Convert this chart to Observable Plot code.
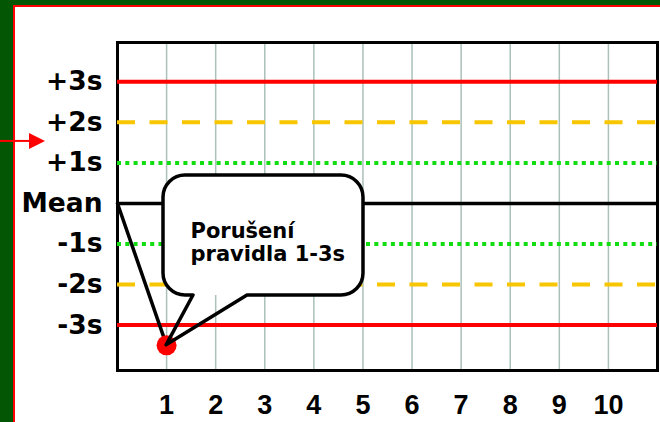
<!DOCTYPE html>
<html><head><meta charset="utf-8">
<script src="https://cdn.jsdelivr.net/npm/d3@7"></script>
<script src="https://cdn.jsdelivr.net/npm/@observablehq/plot@0.6"></script>
<style>
body{margin:0;background:#fff;}
#wrap{position:relative;width:660px;height:422px;background:#fff;overflow:hidden;}
.g-left{position:absolute;left:0;top:0;width:13px;height:422px;background:#035603;}
.g-top{position:absolute;left:0;top:0;width:660px;height:5px;background:#035603;}
.r-left{position:absolute;left:13px;top:5px;width:2px;height:417px;background:#ff0000;}
.r-top{position:absolute;left:13px;top:5px;width:647px;height:2px;background:#ff0000;}
#chart{position:absolute;left:0;top:0;}
</style></head><body>
<div id="wrap"><div class="g-left"></div><div class="g-top"></div><div class="r-left"></div><div class="r-top"></div><div id="chart"></div></div>
<script>
// Data
const runs = [1, 2, 3, 4, 5, 6, 7, 8, 9, 10];
const levelValues = [3, 2, 1, 0, -1, -2, -3];
const levelLabels = ["+3s", "+2s", "+1s", "Mean", "-1s", "-2s", "-3s"];
const seriesRuns = [0, 1];
const seriesValues = [0, -3.5];
const calloutText = "Porušení\npravidla 1-3s";

const series = seriesRuns.map((r, i) => ({run: r, value: seriesValues[i]}));
const breach = series[series.length - 1];

function balloon(index, scales) {
  const {x, y} = scales;
  const L = x(0.937), R = x(5.011), T = y(0.689), B = y(-2.271), r = 22;
  const b1 = x(1.548), b2 = x(2.648);
  const tx = x(breach.run), ty = y(breach.value);
  const g = d3.create("svg:g");
  g.append("rect").attr("x", L).attr("y", T).attr("width", R - L).attr("height", B - T)
    .attr("rx", r).attr("fill", "white");
  const p = `M${b1},${B} H${L + r} A${r},${r} 0 0 1 ${L},${B - r} V${T + r} A${r},${r} 0 0 1 ${L + r},${T} H${R - r} A${r},${r} 0 0 1 ${R},${T + r} V${B - r} A${r},${r} 0 0 1 ${R - r},${B} H${b2} L${tx},${ty} Z`;
  g.append("path").attr("d", p).attr("fill", "none").attr("stroke", "black")
    .attr("stroke-width", 3.5).attr("stroke-linejoin", "round");
  return g.node();
}

function sideArrow(index, scales) {
  const yy = scales.y(1.53);
  const g = d3.create("svg:g");
  g.append("line").attr("x1", 0).attr("x2", 31).attr("y1", yy).attr("y2", yy)
    .attr("stroke", "#ff0000").attr("stroke-width", 2);
  g.append("path").attr("d", `M29,${yy - 8} L45,${yy} L29,${yy + 8} Z`).attr("fill", "#ff0000");
  return g.node();
}

const chart = Plot.plot({
  width: 660,
  height: 422,
  marginLeft: 117,
  marginRight: 3,
  marginTop: 42,
  marginBottom: 52,
  style: {background: "transparent", overflow: "visible"},
  x: {domain: [0, 11]},
  y: {domain: [-4.12, 3.97]},
  marks: [
    Plot.ruleX(runs, {stroke: "#a9c1ba", strokeWidth: 1.5}),
    Plot.frame({stroke: "black", strokeWidth: 3}),
    Plot.ruleY(levelValues.filter(v => Math.abs(v) === 3), {stroke: "#ff0000", strokeWidth: 4}),
    Plot.ruleY(levelValues.filter(v => Math.abs(v) === 2), {stroke: "#f7c600", strokeWidth: 4, strokeDasharray: "18,14.5"}),
    Plot.ruleY(levelValues.filter(v => Math.abs(v) === 1), {stroke: "#11dd11", strokeWidth: 4, strokeDasharray: "4,4.3"}),
    Plot.ruleY(levelValues.filter(v => v === 0), {stroke: "black", strokeWidth: 3.5}),
    Plot.line(series, {x: "run", y: "value", stroke: "black", strokeWidth: 3.5}),
    Plot.dot([breach], {x: "run", y: "value", r: 10, fill: "#ff0000", stroke: "none"}),
    balloon,
    Plot.text([calloutText], {x: 1.487, y: -0.95, text: d => d, textAnchor: "start", lineAnchor: "middle",
      lineHeight: 1.1, fontSize: 21, fontWeight: "bold", fontFamily: "DejaVu Sans", fill: "black"}),
    Plot.axisY(levelValues, {tickSize: 0, tickPadding: 15, label: null,
      tickFormat: d => levelLabels[levelValues.indexOf(d)],
      fontSize: 26.5, fontWeight: "bold", fontFamily: "DejaVu Sans", fill: "black"}),
    Plot.axisX(runs, {tickSize: 0, tickPadding: 24, label: null,
      fontSize: 27, fontWeight: "bold", fontFamily: "Liberation Sans, Arial, sans-serif", fill: "black"}),
    sideArrow
  ]
});
document.getElementById("chart").append(chart);
</script>
</body></html>
